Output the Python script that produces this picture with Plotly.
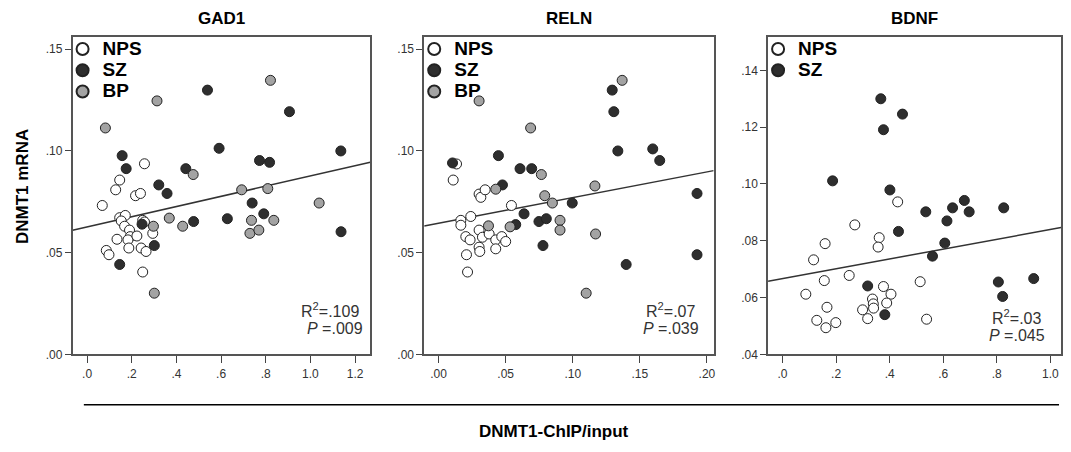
import plotly.graph_objs as go

# categorias / paineis
genes = ['GAD1', 'RELN', 'BDNF']
grupos = ['NPS', 'SZ', 'BP']

# GAD1
gad1_nps_x = [0.068, 0.128, 0.146, 0.257, 0.217, 0.239, 0.146, 0.171, 0.153, 0.168, 0.134, 0.190,
              0.193, 0.183, 0.223, 0.249, 0.257, 0.294, 0.242, 0.264, 0.086, 0.098, 0.187, 0.249]
gad1_nps_y = [0.0732, 0.0809, 0.0857, 0.0937, 0.0780, 0.0791, 0.0672, 0.0683, 0.0656, 0.0630, 0.0566, 0.0611,
              0.0579, 0.0563, 0.0582, 0.0659, 0.0651, 0.0595, 0.0523, 0.0506, 0.0511, 0.0490, 0.0523, 0.0405]
gad1_sz_x = [0.157, 0.175, 0.146, 0.321, 0.358, 0.246, 0.301, 0.442, 0.477, 0.539, 0.591, 0.628,
             0.739, 0.772, 0.817, 0.791, 0.906, 1.136, 1.137]
gad1_sz_y = [0.0977, 0.0913, 0.0442, 0.0833, 0.0791, 0.0640, 0.0535, 0.0913, 0.0653, 0.1299, 0.1013, 0.0667,
             0.0744, 0.0953, 0.0944, 0.0691, 0.1193, 0.1000, 0.0603]
gad1_bp_x = [0.082, 0.313, 0.821, 0.475, 0.368, 0.428, 0.297, 0.301, 0.692, 0.809, 0.736, 0.836,
             0.729, 0.769, 1.039]
gad1_bp_y = [0.1113, 0.1246, 0.1347, 0.0884, 0.0670, 0.0630, 0.0630, 0.0301, 0.0809, 0.0815, 0.0659, 0.0659,
             0.0595, 0.0611, 0.0744]

# RELN
reln_nps_x = [0.0109, 0.0134, 0.0166, 0.0166, 0.0240, 0.0203, 0.0235, 0.0208, 0.0216, 0.0302, 0.0315,
              0.0347, 0.0302, 0.0327, 0.0377, 0.0302, 0.0307, 0.0426, 0.0426, 0.0471, 0.0500, 0.0543]
reln_nps_y = [0.0857, 0.0936, 0.0659, 0.0635, 0.0678, 0.0579, 0.0563, 0.0490, 0.0405, 0.0788, 0.0772,
              0.0809, 0.0611, 0.0576, 0.0592, 0.0527, 0.0506, 0.0563, 0.0519, 0.0579, 0.0555, 0.0732]
reln_sz_x = [0.0104, 0.0446, 0.0476, 0.0607, 0.0694, 0.0575, 0.0637, 0.0748, 0.0803, 0.0778, 0.0996,
             0.1294, 0.1306, 0.1336, 0.1398, 0.1596, 0.1648, 0.1926, 0.1926]
reln_sz_y = [0.0941, 0.0977, 0.0833, 0.0913, 0.0913, 0.0638, 0.0691, 0.0653, 0.0667, 0.0535, 0.0744,
             0.1299, 0.1193, 0.1000, 0.0442, 0.1010, 0.0953, 0.0791, 0.0490]
reln_bp_x = [0.0302, 0.0686, 0.1368, 0.0766, 0.0426, 0.0372, 0.0533, 0.0791, 0.0848, 0.0905, 0.0905,
             0.1165, 0.1170, 0.1100]
reln_bp_y = [0.1246, 0.1113, 0.1347, 0.0884, 0.0812, 0.0632, 0.0627, 0.0780, 0.0744, 0.0659, 0.0611,
             0.0828, 0.0592, 0.0301]

# BDNF (sem BP)
bdnf_nps_x = [0.087, 0.116, 0.159, 0.156, 0.166, 0.128, 0.162, 0.199, 0.249, 0.270, 0.361, 0.357,
              0.336, 0.339, 0.340, 0.299, 0.318, 0.377, 0.405, 0.389, 0.430, 0.514, 0.538]
bdnf_nps_y = [0.0612, 0.0733, 0.0790, 0.0660, 0.0566, 0.0520, 0.0494, 0.0512, 0.0678, 0.0856, 0.0811, 0.0778,
              0.0595, 0.0578, 0.0563, 0.0557, 0.0526, 0.0639, 0.0612, 0.0581, 0.0937, 0.0656, 0.0524]
bdnf_sz_x = [0.187, 0.367, 0.377, 0.448, 0.401, 0.433, 0.318, 0.382, 0.535, 0.614, 0.635, 0.679,
             0.697, 0.606, 0.560, 0.826, 0.806, 0.822, 0.938]
bdnf_sz_y = [0.1011, 0.1300, 0.1191, 0.1246, 0.0979, 0.0833, 0.0641, 0.0540, 0.0902, 0.0870, 0.0916, 0.0942,
             0.0902, 0.0792, 0.0746, 0.0916, 0.0655, 0.0604, 0.0667]

# retas de regressao (intercepto, inclinacao) e estatisticas
fit_intercept = [0.0627, 0.0645, 0.0667]
fit_slope = [0.025, 0.126, 0.01728]
r2_text = ['.109', '.07', '.03']
p_text = ['.009', '.039', '.045']

# ticks
x_tickvals = [[0, 0.2, 0.4, 0.6, 0.8, 1.0, 1.2],
              [0, 0.05, 0.10, 0.15, 0.20],
              [0, 0.2, 0.4, 0.6, 0.8, 1.0]]
x_ticktext = [['.0', '.2', '.4', '.6', '.8', '1.0', '1.2'],
              ['.00', '.05', '.10', '.15', '.20'],
              ['.0', '.2', '.4', '.6', '.8', '1.0']]
y_tickvals = [[0, 0.05, 0.10, 0.15],
              [0, 0.05, 0.10, 0.15],
              [0.04, 0.06, 0.08, 0.10, 0.12, 0.14]]
y_ticktext = [['.00', '.05', '.10', '.15'],
              ['.00', '.05', '.10', '.15'],
              ['.04', '.06', '.08', '.10', '.12', '.14']]

x_ranges = [[-0.065, 1.268], [-0.0107, 0.205], [-0.054, 1.04]]
y_ranges = [[0, 0.1558], [0, 0.1558], [0.04, 0.1516]]

W, H = 1071, 452
x_dom = [[72.7, 371], [425, 715], [769.5, 1063]]
y_dom = [38, 360]

cores = {'NPS': 'white', 'SZ': '#2e2e2e', 'BP': '#a3a3a3'}
FONTE = 'Liberation Sans, Arial, sans-serif'

dados = [
    {'NPS': (gad1_nps_x, gad1_nps_y), 'SZ': (gad1_sz_x, gad1_sz_y), 'BP': (gad1_bp_x, gad1_bp_y)},
    {'NPS': (reln_nps_x, reln_nps_y), 'SZ': (reln_sz_x, reln_sz_y), 'BP': (reln_bp_x, reln_bp_y)},
    {'NPS': (bdnf_nps_x, bdnf_nps_y), 'SZ': (bdnf_sz_x, bdnf_sz_y)},
]

fig = go.Figure()
layout = dict(width=W, height=H, margin=dict(l=0, r=0, t=0, b=0),
              plot_bgcolor='white', paper_bgcolor='white',
              font=dict(family=FONTE, color='#333333'))
annotations = []

for i, gene in enumerate(genes):
    sfx = '' if i == 0 else str(i + 1)
    leg = 'legend' + sfx
    # regressao
    x0, x1 = x_ranges[i]
    fig.add_trace(go.Scatter(x=[x0, x1],
                             y=[fit_intercept[i] + fit_slope[i] * x0, fit_intercept[i] + fit_slope[i] * x1],
                             mode='lines', line=dict(color='#333333', width=1.5),
                             showlegend=False, xaxis='x' + sfx, yaxis='y' + sfx, hoverinfo='skip'))
    for g in grupos:
        if g not in dados[i]:
            continue
        xs, ys = dados[i][g]
        fig.add_trace(go.Scatter(x=xs, y=ys, mode='markers',
                                 name='<span style="font-size:19px"><b>%s</b></span>' % g,
                                 marker=dict(size=10, color=cores[g], line=dict(color='#222222', width=1)),
                                 xaxis='x' + sfx, yaxis='y' + sfx, legend=leg))
    layout['xaxis' + sfx] = dict(domain=[x_dom[i][0] / W, x_dom[i][1] / W], range=x_ranges[i],
                                 anchor='y' + sfx, tickvals=x_tickvals[i], ticktext=x_ticktext[i],
                                 ticks='outside', ticklen=7, tickcolor='#444', showgrid=False,
                                 zeroline=False, showline=True, linecolor='#555', linewidth=1.5,
                                 mirror=True, tickfont=dict(size=12, color='#333'))
    layout['yaxis' + sfx] = dict(domain=[1 - y_dom[1] / H, 1 - y_dom[0] / H], range=y_ranges[i],
                                 anchor='x' + sfx, tickvals=y_tickvals[i], ticktext=y_ticktext[i],
                                 ticks='outside', ticklen=6, tickcolor='#444', showgrid=False,
                                 zeroline=False, showline=True, linecolor='#555', linewidth=1.5,
                                 mirror=True, tickfont=dict(size=12, color='#333'))
    layout[leg] = dict(x=(x_dom[i][0] - 10) / W, y=1 - (y_dom[0] - 4) / H, xanchor='left', yanchor='top',
                       bgcolor='rgba(0,0,0,0)', font=dict(size=14, color='black', family=FONTE),
                       itemsizing='constant', tracegroupgap=0)
    # titulo do painel
    annotations.append(dict(text='<b>%s</b>' % gene, x=(x_dom[i][0] + x_dom[i][1]) / 2 / W, y=1 - 19 / H,
                            xref='paper', yref='paper', xanchor='center', yanchor='middle', showarrow=False,
                            font=dict(size=17, color='black')))

# R2 e P
r2_pos = [(362, 315, 334), (698, 315, 334), (1045, 322, 341)]
for i in range(3):
    xr, y1, y2 = r2_pos[i]
    annotations.append(dict(text='R<sup>2</sup>=' + r2_text[i], x=xr / W, y=1 - y1 / H, xref='paper',
                            yref='paper', xanchor='right', yanchor='middle', showarrow=False,
                            font=dict(size=16, color='#333')))
    annotations.append(dict(text='<i>P</i> =' + p_text[i], x=(xr + 4) / W, y=1 - y2 / H, xref='paper',
                            yref='paper', xanchor='right', yanchor='middle', showarrow=False,
                            font=dict(size=16, color='#333')))

annotations.append(dict(text='<b>DNMT1 mRNA</b>', x=22 / W, y=1 - 189 / H, xref='paper', yref='paper',
                        xanchor='center', yanchor='middle', textangle=-90, showarrow=False,
                        font=dict(size=17, color='black')))
annotations.append(dict(text='<b>DNMT1-ChIP/input</b>', x=555 / W, y=1 - 438 / H, xref='paper',
                        yref='paper', xanchor='center', yanchor='middle', showarrow=False,
                        font=dict(size=17, color='black')))

layout['annotations'] = annotations
layout['shapes'] = [dict(type='line', xref='paper', yref='paper', x0=84 / W, x1=1061 / W,
                         y0=1 - 411 / H, y1=1 - 411 / H, line=dict(color='black', width=1.5))]

fig.update_layout(layout)
# sem margem do body pra figura ocupar a janela inteira
fig.write_html('out.html', config={'displayModeBar': False},
               post_script="document.body.style.margin='0';")
